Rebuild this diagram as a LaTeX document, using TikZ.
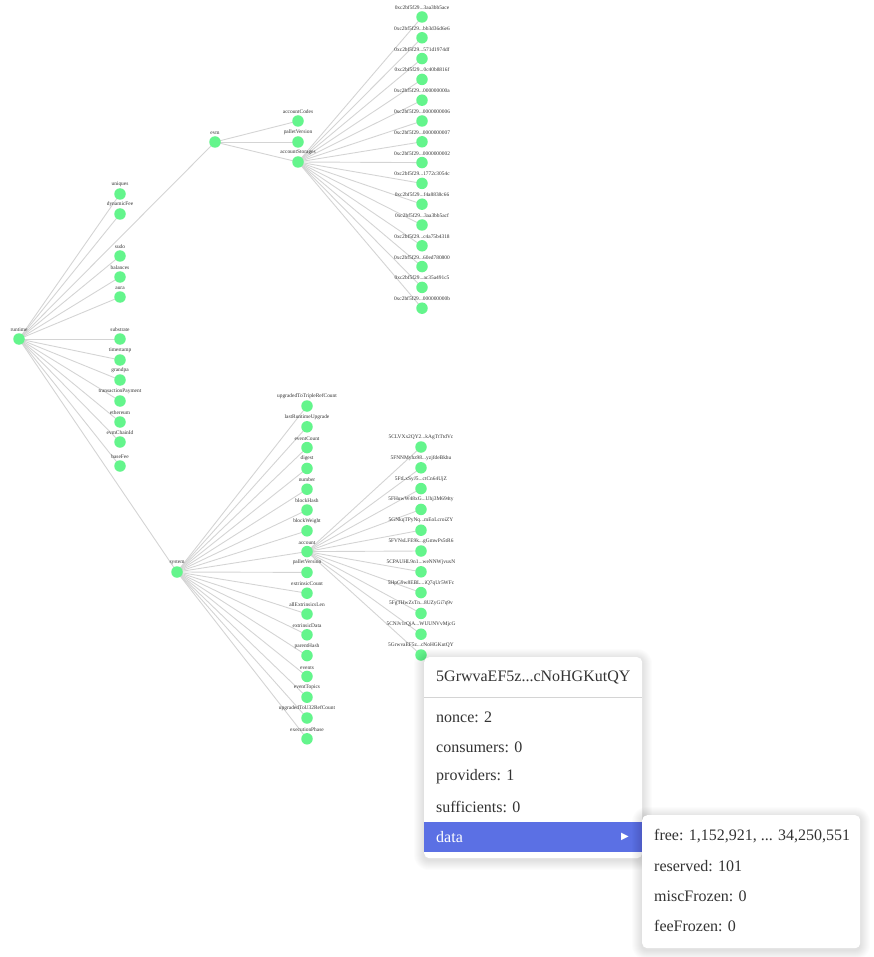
\documentclass[tikz,border=0pt]{standalone}
\usepackage{fontspec}
\setmainfont{Liberation Serif}
\newfontfamily\symbolfont{DejaVu Sans}
\usepackage{tikz}

\definecolor{leafgreen}{RGB}{100,245,140}
\definecolor{edgegrey}{RGB}{212,212,212}
\definecolor{inktext}{RGB}{51,51,51}
\definecolor{pickblue}{RGB}{91,112,228}

\newcommand{\cut}{...}

\pgfdeclarelayer{links}
\pgfsetlayers{links,main}

\tikzset{
  entry/.style={circle,fill=leafgreen,inner sep=0pt,minimum size=11.5pt,
    label={[entrylabel]above:#1}},
  entrylabel/.style={inner sep=0pt,label distance=1.2pt,text=inktext,
    font=\fontsize{5.4}{6}\selectfont},
  branch/.style={draw=edgegrey,line width=0.9pt},
  menubox/.style={draw=none,fill=white,rounded corners=5pt,anchor=north west,
    minimum width=218pt},
  menuitem/.style={anchor=west,inner sep=0pt,text=inktext,font=\fontsize{16}{19}\selectfont}
}

\begin{document}
\begin{tikzpicture}[x=1pt,y=-1pt]
        \useasboundingbox (0,0) rectangle (873,957);

        % tree of storage keys
        \node[entry=runtime] (runtime) at (19,339) {};
        \node[entry=evm] (evm) at (215,142) {};
        \node[entry=system] (system) at (177,572) {};

        \foreach \name/\y in {uniques/194,dynamicFee/214,sudo/256,balances/277,aura/297,
            substrate/339,timestamp/360,grandpa/380,transactionPayment/401,
            ethereum/422,evmChainId/442,baseFee/466}{
          \node[entry=\name] (rt-\name) at (120,\y) {};
        }

        \node[entry=accountCodes] (evm-codes) at (298,121) {};
        \node[entry=palletVersion] (evm-version) at (298,142) {};
        \node[entry=accountStorages] (evm-storages) at (298,162) {};

        \foreach \name [count=\i] in {upgradedToTripleRefCount,lastRuntimeUpgrade,
            eventCount,digest,number,blockHash,blockWeight,account,palletVersion,
            extrinsicCount,allExtrinsicsLen,extrinsicData,parentHash,events,
            eventTopics,upgradedToU32RefCount,executionPhase}{
          \node[entry=\name] (sys-\i) at (307,{406+20.8*(\i-1)}) {};
        }

        \foreach \tail [count=\i] in {3aa3bb5ace,bb3d36d6e6,571d1974df,0c40b8816f,
            000000000a,0000000006,0000000007,0000000002,1772c3054c,f4a8838c66,
            3aa3bb5acf,c4a75b4318,60ed780800,ac35a491c5,000000000b}{
          \node[entry={0xc2bf5f29\cut\tail}] (slot-\i) at (422,{17+20.8*(\i-1)}) {};
        }

        \foreach \head/\tail [count=\i] in {5CLVXx2QY2/kAgTtTtdVc,5FNNMyhz98/yzjfdeBkhu,
            5FtLxSyJ5/ctCn64UjZ,5FHuwW48xG/Uhj3M694ty,5GNkqTPyNq/mEoLcroiZY,
            5FVNsLFE9k/gGmwPs5tR6,5CPAUHL9n1/weNNWjvuxN,5HpG9w8EBL/iQ7qUr5WFc,
            5FgTHwZsTn/8UZyGi7q9v,5CNJv1rQjA/WUUNVvMjcG,5GrwvaEF5z/cNoHGKutQY}{
          \node[entry={\head\cut\tail}] (acct-\i) at (421,{447+20.8*(\i-1)}) {};
        }

        % links, under the nodes and their labels
        \begin{pgfonlayer}{links}
          \path[branch] (runtime.center) edge (evm.center);
          \path[branch] (runtime.center) edge (system.center);
          \foreach \name in {uniques,dynamicFee,sudo,balances,aura,substrate,timestamp,
              grandpa,transactionPayment,ethereum,evmChainId,baseFee}
            \path[branch] (runtime.center) edge (rt-\name.center);
          \foreach \name in {codes,version,storages}
            \path[branch] (evm.center) edge (evm-\name.center);
          \foreach \i in {1,...,17}
            \path[branch] (system.center) edge (sys-\i.center);
          \foreach \i in {1,...,15}
            \path[branch] (evm-storages.center) edge (slot-\i.center);
          \foreach \i in {1,...,11}
            \path[branch] (sys-8.center) edge (acct-\i.center);
        \end{pgfonlayer}

        % account popup
        \foreach \k in {1,...,10}
          \fill[black,opacity=0.012,rounded corners={5pt+\k pt}]
            (424-\k,657-\k+2) rectangle (642+\k,858+\k+2);
        \node[menubox,minimum height=201pt] (card) at (424,657) {};
        \node[menuitem] (cardtitle) at (436,677) {5GrwvaEF5z\cut cNoHGKutQY};
        \draw[draw=edgegrey,line width=1pt] (424,697) -- (642,697);
        \node[menuitem] (nonce) at (436,717) {nonce: 2};
        \node[menuitem] (consumers) at (436,747) {consumers: 0};
        \node[menuitem] (providers) at (436,777) {providers: 1};
        \node[menuitem] (sufficients) at (436,807) {sufficients: 0};
        \node[fill=pickblue,anchor=north west,inner sep=0pt,minimum width=218pt,
          minimum height=30pt] (datarow) at (424,822) {};
        \node[menuitem,text=white] (data) at (436,837) {data};
        \node[text=white,font=\symbolfont\fontsize{10}{12}\selectfont,inner sep=0pt] (more) at (625,837) {▶};

        % data submenu
        \foreach \k in {1,...,10}
          \fill[black,opacity=0.012,rounded corners={5pt+\k pt}]
            (642-\k,815-\k+2) rectangle (860+\k,948+\k+2);
        \node[menubox,minimum height=133pt] (subcard) at (642,815) {};
        \node[menuitem] (free) at (654,836) {free: 1,152,921, \cut{} 34,250,551};
        \node[menuitem] (reserved) at (654,866) {reserved: 101};
        \node[menuitem] (miscfrozen) at (654,896) {miscFrozen: 0};
        \node[menuitem] (feefrozen) at (654,926) {feeFrozen: 0};
    \end{tikzpicture}
\end{document}
